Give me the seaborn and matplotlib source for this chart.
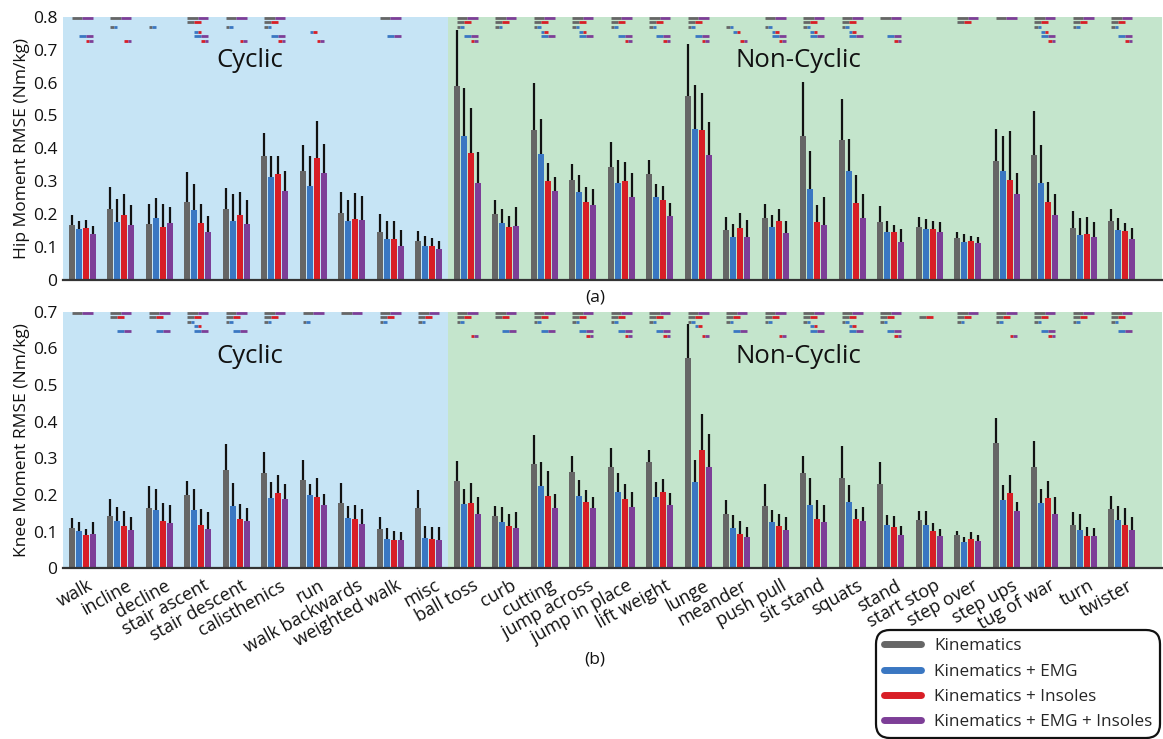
import numpy as np
import pandas as pd
import matplotlib
matplotlib.use("Agg")
import matplotlib.pyplot as plt
import matplotlib.transforms as mtransforms
from matplotlib.lines import Line2D
from matplotlib.ticker import FuncFormatter
import seaborn as sns

activities = ['walk', 'incline', 'decline', 'stair ascent', 'stair descent', 'calisthenics',
              'run', 'walk backwards', 'weighted walk', 'misc', 'ball toss', 'curb', 'cutting',
              'jump across', 'jump in place', 'lift weight', 'lunge', 'meander', 'push pull',
              'sit stand', 'squats', 'stand', 'start stop', 'step over', 'step ups',
              'tug of war', 'turn', 'twister']
models = ['Kinematics', 'Kinematics + EMG', 'Kinematics + Insoles', 'Kinematics + EMG + Insoles']
n_cyclic = 10

# Hip moment RMSE (Nm/kg): means and one-sided error bar lengths
hip_kin = [0.167, 0.215, 0.169, 0.236, 0.215, 0.378, 0.330, 0.203, 0.145, 0.118,
           0.590, 0.202, 0.455, 0.304, 0.342, 0.323, 0.558, 0.151, 0.188, 0.437,
           0.424, 0.176, 0.162, 0.127, 0.363, 0.380, 0.158, 0.180]
hip_kin_sd = [0.030, 0.069, 0.061, 0.093, 0.066, 0.070, 0.079, 0.064, 0.055, 0.030,
              0.169, 0.042, 0.145, 0.049, 0.076, 0.042, 0.158, 0.039, 0.043, 0.164,
              0.126, 0.050, 0.029, 0.018, 0.095, 0.134, 0.052, 0.035]
hip_emg = [0.154, 0.175, 0.187, 0.214, 0.180, 0.314, 0.287, 0.180, 0.125, 0.104,
           0.438, 0.174, 0.384, 0.267, 0.294, 0.253, 0.459, 0.132, 0.161, 0.277,
           0.331, 0.147, 0.154, 0.116, 0.331, 0.296, 0.138, 0.152]
hip_emg_sd = [0.026, 0.070, 0.063, 0.079, 0.082, 0.063, 0.090, 0.062, 0.055, 0.030,
              0.144, 0.041, 0.105, 0.051, 0.072, 0.039, 0.133, 0.039, 0.036, 0.115,
              0.096, 0.032, 0.030, 0.023, 0.107, 0.115, 0.051, 0.037]
hip_ins = [0.158, 0.199, 0.162, 0.174, 0.197, 0.321, 0.371, 0.185, 0.125, 0.103,
           0.385, 0.162, 0.302, 0.236, 0.300, 0.242, 0.455, 0.158, 0.180, 0.177,
           0.233, 0.145, 0.154, 0.117, 0.303, 0.238, 0.141, 0.149]
hip_ins_sd = [0.024, 0.061, 0.069, 0.057, 0.070, 0.056, 0.112, 0.080, 0.053, 0.026,
              0.137, 0.031, 0.052, 0.047, 0.059, 0.043, 0.112, 0.045, 0.035, 0.051,
              0.086, 0.022, 0.024, 0.018, 0.149, 0.061, 0.050, 0.025]
hip_all = [0.140, 0.166, 0.172, 0.145, 0.169, 0.269, 0.324, 0.182, 0.104, 0.095,
           0.295, 0.165, 0.271, 0.229, 0.253, 0.194, 0.380, 0.132, 0.143, 0.168,
           0.189, 0.116, 0.147, 0.111, 0.260, 0.199, 0.131, 0.125]
hip_all_sd = [0.024, 0.063, 0.051, 0.049, 0.073, 0.061, 0.088, 0.072, 0.048, 0.022,
              0.093, 0.057, 0.041, 0.047, 0.071, 0.039, 0.100, 0.049, 0.035, 0.085,
              0.073, 0.039, 0.030, 0.019, 0.066, 0.061, 0.044, 0.033]

# Knee moment RMSE (Nm/kg)
knee_kin = [0.109, 0.143, 0.165, 0.200, 0.268, 0.259, 0.240, 0.178, 0.106, 0.164,
            0.238, 0.142, 0.285, 0.262, 0.275, 0.290, 0.575, 0.149, 0.169, 0.259,
            0.245, 0.231, 0.132, 0.090, 0.343, 0.275, 0.119, 0.162]
knee_kin_sd = [0.029, 0.047, 0.059, 0.037, 0.070, 0.059, 0.055, 0.054, 0.033, 0.049,
               0.054, 0.027, 0.080, 0.045, 0.053, 0.033, 0.091, 0.036, 0.061, 0.046,
               0.089, 0.059, 0.025, 0.011, 0.066, 0.073, 0.034, 0.034]
knee_emg = [0.103, 0.130, 0.160, 0.160, 0.171, 0.191, 0.200, 0.138, 0.079, 0.084,
            0.175, 0.125, 0.225, 0.197, 0.207, 0.194, 0.236, 0.109, 0.126, 0.173,
            0.180, 0.118, 0.117, 0.073, 0.186, 0.178, 0.105, 0.132]
knee_emg_sd = [0.022, 0.038, 0.056, 0.056, 0.062, 0.045, 0.030, 0.032, 0.030, 0.031,
               0.040, 0.041, 0.065, 0.044, 0.053, 0.041, 0.059, 0.036, 0.034, 0.072,
               0.047, 0.027, 0.038, 0.013, 0.040, 0.039, 0.043, 0.039]
knee_ins = [0.091, 0.115, 0.129, 0.118, 0.134, 0.205, 0.195, 0.134, 0.077, 0.081,
            0.178, 0.115, 0.197, 0.182, 0.188, 0.208, 0.324, 0.093, 0.116, 0.134,
            0.135, 0.113, 0.103, 0.080, 0.205, 0.191, 0.088, 0.119]
knee_ins_sd = [0.017, 0.040, 0.049, 0.045, 0.042, 0.049, 0.052, 0.038, 0.025, 0.033,
               0.055, 0.032, 0.068, 0.032, 0.041, 0.036, 0.098, 0.036, 0.031, 0.052,
               0.026, 0.030, 0.020, 0.018, 0.050, 0.046, 0.024, 0.046]
knee_all = [0.094, 0.105, 0.124, 0.107, 0.129, 0.188, 0.173, 0.122, 0.076, 0.078,
            0.149, 0.109, 0.164, 0.165, 0.166, 0.174, 0.276, 0.085, 0.105, 0.125,
            0.130, 0.092, 0.087, 0.075, 0.157, 0.149, 0.088, 0.105]
knee_all_sd = [0.031, 0.036, 0.049, 0.046, 0.036, 0.041, 0.031, 0.040, 0.022, 0.034,
               0.045, 0.044, 0.038, 0.030, 0.042, 0.031, 0.091, 0.027, 0.036, 0.048,
               0.037, 0.024, 0.021, 0.016, 0.024, 0.046, 0.022, 0.035]

# Significant pairwise differences per activity; digit = comparison row
# 1: Kin vs Kin+EMG+Ins, 2: Kin vs Kin+Ins, 3: Kin vs Kin+EMG,
# 4: Kin+EMG vs Kin+Ins, 5: Kin+EMG vs Kin+EMG+Ins, 6: Kin+Ins vs Kin+EMG+Ins
comparison_pairs = [(0, 3), (0, 2), (0, 1), (1, 2), (1, 3), (2, 3)]
hip_sig = ['156', '136', '3', '12456', '136', '12356', '46', '', '15', '',
           '12356', '123', '12345', '12345', '12356', '12356', '12356', '346', '13456',
           '12345', '12345', '156', '', '12', '1', '123456', '123', '12356']
knee_sig = ['1', '125', '125', '12345', '1235', '123', '13', '1', '123', '123',
            '1236', '125', '1235', '12356', '12356', '12356', '12346', '1235', '1236',
            '12345', '12345', '12356', '2', '123', '1236', '12356', '123', '1235']

colors = ['#666666', '#3a77c2', '#d81e26', '#7d3e97']
bg_cyclic = '#c6e4f5'
bg_noncyclic = '#c4e5cc'

sns.set_theme(style='white')
plt.rcParams['font.family'] = ['Open Sans', 'DejaVu Sans']

fig = plt.figure(figsize=(11.63, 7.39), dpi=100)
ax_hip = fig.add_axes([0.0542, 0.6211, 0.945, 0.3563])
ax_knee = fig.add_axes([0.0542, 0.2310, 0.945, 0.3472])


def make_df(series):
    rows = []
    for m, vals in zip(models, series):
        for a, v in zip(activities, vals):
            rows.append({'activity': a, 'model': m, 'rmse': v})
    return pd.DataFrame(rows)


def draw_panel(ax, means, sds, sig, ymax, sig_top, sig_step, ylabel, text_y):
    df = make_df(means)
    ax.axvspan(-0.5, n_cyclic - 0.5, color=bg_cyclic, zorder=0, lw=0)
    ax.axvspan(n_cyclic - 0.5, 30, color=bg_noncyclic, zorder=0, lw=0)
    sns.barplot(data=df, x='activity', y='rmse', hue='model', order=activities,
                hue_order=models, palette=colors, width=0.72, gap=0.12,
                errorbar=None, legend=False, saturation=1, ax=ax, linewidth=0)
    centers = []
    for k, cont in enumerate(ax.containers[:4]):
        xs = np.array([b.get_x() + b.get_width() / 2 for b in cont])
        centers.append(xs)
        m = np.asarray(means[k])
        s = np.asarray(sds[k])
        ax.vlines(xs, m, m + s, color='#111111', lw=1.6, zorder=3)
    for i, codes in enumerate(sig):
        for c in codes:
            r = int(c) - 1
            a, b = comparison_pairs[r]
            y = sig_top - r * sig_step
            xa, xb = centers[a][i], centers[b][i]
            xm = (xa + xb) / 2
            ax.plot([xa, xm], [y, y], color=colors[a], lw=2.0, solid_capstyle='butt', zorder=4)
            ax.plot([xm, xb], [y, y], color=colors[b], lw=2.0, solid_capstyle='butt', zorder=4)
    ax.set_xlim(-0.5, 28.045)
    ax.set_ylim(0, ymax)
    ax.set_yticks(np.arange(0, ymax + 0.001, 0.1))
    ax.yaxis.set_major_formatter(FuncFormatter(lambda v, p: '0' if abs(v) < 1e-9 else f'{v:.1f}'))
    ax.tick_params(axis='y', length=0, labelsize=12.5, pad=4, labelcolor='#111111')
    ax.tick_params(axis='x', direction='in', length=8.5, width=1.6, color='#222222')
    for sp in ['top', 'right', 'left']:
        ax.spines[sp].set_visible(False)
    ax.spines['bottom'].set_color('#333333')
    ax.spines['bottom'].set_linewidth(1.6)
    ax.spines['bottom'].set_zorder(5)
    ax.set_xlabel('')
    ax.set_ylabel(ylabel, fontsize=12.5, color='#111111')
    ax.yaxis.set_label_coords(-0.0297, 0.5)
    ax.grid(False)
    ax.text(4.36, text_y, 'Cyclic', fontsize=18.5, ha='center', va='center', color='#111111')
    ax.text(18.6, text_y, 'Non-Cyclic', fontsize=18.5, ha='center', va='center', color='#111111')


draw_panel(ax_hip, [hip_kin, hip_emg, hip_ins, hip_all],
           [hip_kin_sd, hip_emg_sd, hip_ins_sd, hip_all_sd], hip_sig,
           0.8, 0.797, 0.014, 'Hip Moment RMSE (Nm/kg)', 0.668)
draw_panel(ax_knee, [knee_kin, knee_emg, knee_ins, knee_all],
           [knee_kin_sd, knee_emg_sd, knee_ins_sd, knee_all_sd], knee_sig,
           0.7, 0.697, 0.0124, 'Knee Moment RMSE (Nm/kg)', 0.577)

ax_hip.set_xticklabels([])
ax_knee.set_xticks(range(len(activities)))
ax_knee.set_xticklabels(activities, rotation=29, ha='right', rotation_mode='anchor',
                        fontsize=13, color='#111111')
ax_knee.tick_params(axis='x', pad=6)
shift = mtransforms.ScaledTranslation(5 / 100, 0, fig.dpi_scale_trans)
for lbl in ax_knee.get_xticklabels():
    lbl.set_transform(lbl.get_transform() + shift)

fig.text(595 / 1163, 1 - 297 / 739, '(a)', fontsize=12.5, ha='center', va='center', color='#111111')
fig.text(595 / 1163, 1 - 660 / 739, '(b)', fontsize=12.5, ha='center', va='center', color='#111111')

handles = [Line2D([], [], color=c, lw=5, solid_capstyle='round') for c in colors]
leg = fig.legend(handles, models, loc='lower right', bbox_to_anchor=(1160 / 1163, 1 / 739),
                 fontsize=12.3, frameon=True, fancybox=True, handlelength=2.2,
                 handletextpad=0.75, labelspacing=0.55, borderpad=0.45, borderaxespad=0)
frame = leg.get_frame()
frame.set_edgecolor('#111111')
frame.set_linewidth(1.6)
frame.set_facecolor('white')
frame.set_alpha(1)
frame.set_boxstyle('round,pad=0,rounding_size=0.8')

fig.savefig('out.png', dpi=100)
